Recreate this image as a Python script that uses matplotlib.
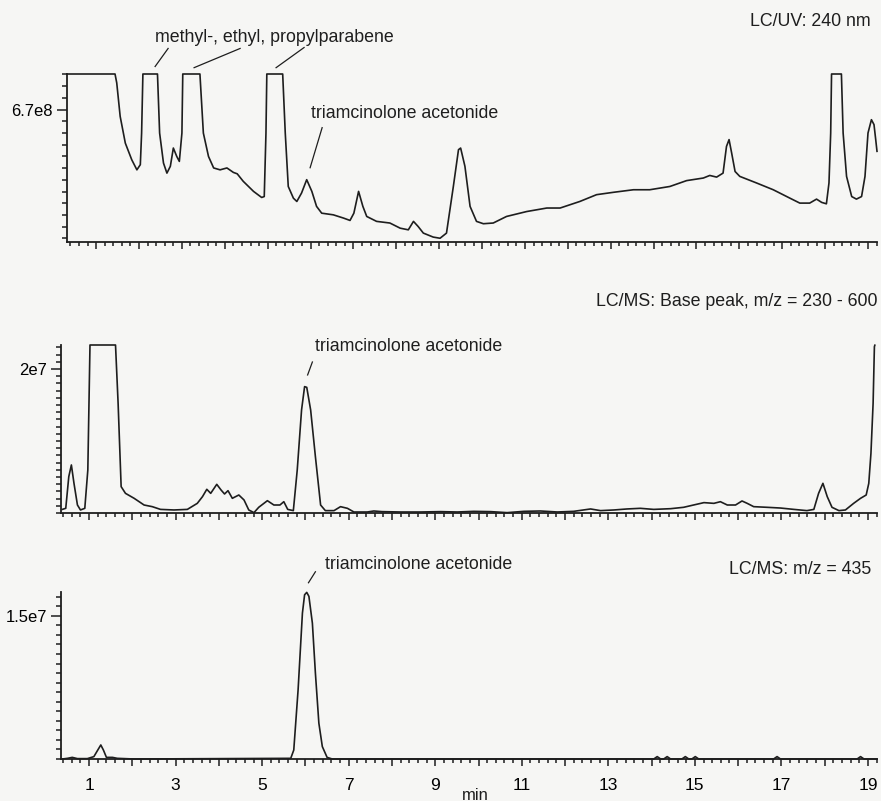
import matplotlib
matplotlib.use("Agg")
import matplotlib.pyplot as plt
from matplotlib.ticker import FixedLocator, MultipleLocator, FuncFormatter

plt.rcParams['font.family'] = ['Liberation Sans', 'DejaVu Sans']

# --- LC/UV 240 nm trace (time in min, intensity in units of 1e8) ---
uv_time = [0.32, 1.44, 1.48, 1.56, 1.68, 1.83, 1.95, 2.03, 2.06, 2.09, 2.43, 2.48, 2.57, 2.65,
           2.73, 2.80, 2.88, 2.94, 3.00, 3.02, 3.42, 3.50, 3.62, 3.74, 3.89, 4.05, 4.20, 4.29,
           4.43, 4.67, 4.86, 4.92, 4.96, 4.98, 5.35, 5.41, 5.48, 5.60, 5.68, 5.79, 5.91, 6.03,
           6.14, 6.26, 6.53, 6.77, 6.92, 7.01, 7.12, 7.22, 7.31, 7.54, 7.85, 8.09, 8.28, 8.40,
           8.51, 8.63, 8.86, 9.02, 9.17, 9.33, 9.45, 9.50, 9.60, 9.72, 9.87, 10.03, 10.26, 10.57,
           11.04, 11.51, 11.82, 12.28, 12.67, 13.06, 13.53, 13.91, 14.38, 14.77, 15.16, 15.31,
           15.47, 15.62, 15.70, 15.76, 15.82, 15.90, 16.01, 16.40, 16.79, 17.18, 17.41, 17.64,
           17.80, 17.92, 18.03, 18.09, 18.13, 18.15, 18.38, 18.42, 18.50, 18.62, 18.73, 18.85,
           18.93, 19.00, 19.08, 19.14, 19.18, 19.21]
uv_signal = [8.22, 8.22, 7.84, 6.41, 5.27, 4.56, 4.13, 4.35, 5.70, 8.22, 8.22, 5.70, 4.42, 3.99,
             4.28, 5.06, 4.70, 4.49, 5.70, 8.22, 8.22, 5.70, 4.70, 4.21, 4.13, 4.21, 4.02, 3.96,
             3.64, 3.21, 2.95, 2.99, 5.70, 8.22, 8.22, 5.70, 3.42, 2.92, 2.78, 3.14, 3.71, 3.21,
             2.57, 2.28, 2.21, 2.07, 1.97, 2.28, 3.21, 2.57, 2.14, 1.93, 1.86, 1.64, 1.57, 1.93,
             1.71, 1.43, 1.26, 1.21, 1.43, 3.42, 4.99, 5.06, 4.28, 2.57, 1.93, 1.83, 1.86, 2.14,
             2.35, 2.50, 2.50, 2.78, 3.07, 3.17, 3.28, 3.28, 3.42, 3.67, 3.78, 3.89,
             3.82, 3.99, 5.13, 5.42, 4.85, 4.06, 3.85, 3.57, 3.28, 2.92, 2.71, 2.71,
             2.88, 2.74, 2.68, 3.57, 5.70, 8.22, 8.22, 5.70, 3.85, 2.99, 2.88, 2.99,
             3.85, 5.70, 6.27, 6.06, 5.42, 4.92]

# --- LC/MS base peak trace, m/z 230-600 (intensity in units of 1e6) ---
bp_time = [0.38, 0.46, 0.53, 0.59, 0.65, 0.73, 0.80, 0.90, 0.97, 1.02, 1.61, 1.67, 1.74, 1.84,
           2.04, 2.27, 2.46, 2.65, 2.96, 3.27, 3.50, 3.62, 3.72, 3.81, 3.95, 4.05, 4.13, 4.21,
           4.31, 4.46, 4.58, 4.69, 4.81, 4.92, 5.12, 5.27, 5.41, 5.50, 5.59, 5.72, 5.81, 5.91,
           5.98, 6.03, 6.12, 6.23, 6.35, 6.46, 6.66, 6.81, 6.97, 7.12, 7.43, 7.58, 7.77, 8.20,
           8.66, 9.12, 9.51, 9.89, 10.28, 10.66, 11.05, 11.43, 11.82, 12.20, 12.59, 12.82, 13.13,
           13.43, 13.74, 14.05, 14.44, 14.74, 14.97, 15.21, 15.44, 15.59, 15.75, 15.94, 16.09,
           16.21, 16.36, 16.67, 16.98, 17.29, 17.59, 17.75, 17.86, 17.96, 18.06, 18.17, 18.33,
           18.48, 18.67, 18.83, 18.96, 19.02, 19.07, 19.12, 19.15, 19.16]
bp_signal = [0.50, 0.65, 5.05, 6.67, 4.12, 1.11, 0.42, 0.65, 5.97, 23.33, 23.33, 15.23, 3.66, 2.73,
             2.04, 1.11, 0.88, 0.50, 0.42, 0.50, 1.34, 2.27, 3.29, 2.73, 3.98, 3.19, 2.64, 3.10,
             2.04, 2.50, 1.81, 0.42, 0.05, 0.79, 1.71, 1.11, 1.11, 1.57, 0.50, 0.33, 5.97, 14.31,
             17.55, 17.45, 14.31, 7.82, 1.11, 0.33, 0.33, 0.88, 0.65, 0.14, 0.14, 0.28, 0.19, 0.14,
             0.14, 0.19, 0.14, 0.23, 0.19, 0.05, 0.23, 0.28, 0.14, 0.23, 0.56, 0.33, 0.42,
             0.56, 0.65, 0.50, 0.60, 0.79, 1.11, 1.44, 1.34, 1.57, 1.11, 1.11, 1.67,
             1.34, 0.88, 0.79, 0.69, 0.50, 0.33, 0.50, 2.73, 4.12, 2.27, 0.79, 0.33,
             0.42, 1.34, 2.04, 2.50, 4.12, 8.29, 15.23, 23.10, 23.30]

# --- LC/MS extracted ion, m/z 435 (intensity in units of 1e6) ---
xic_time = [0.38, 0.50, 0.61, 0.73, 0.96, 1.11, 1.20, 1.27, 1.33, 1.40, 1.54, 1.65, 2.04, 5.66,
            5.73, 5.83, 5.93, 5.98, 6.03, 6.08, 6.16, 6.23, 6.31, 6.39, 6.50, 6.62, 14.05, 14.13,
            14.21, 14.28, 14.36, 14.44, 14.70, 14.78, 14.86, 14.93, 15.01, 15.09, 16.82, 16.90,
            16.98, 18.75, 18.83, 18.91, 19.21]
xic_signal = [0.00, 0.07, 0.17, 0.04, 0.04, 0.25, 0.94, 1.47, 0.94, 0.17, 0.17, 0.07, 0.00, 0.07,
              0.94, 7.25, 15.29, 17.21, 17.46, 17.04, 14.24, 8.99, 3.75, 1.30, 0.17, 0.00, 0.00, 0.25,
              0.00, 0.00, 0.25, 0.00, 0.00, 0.25, 0.00, 0.00, 0.25, 0.00, 0.00, 0.25,
              0.00, 0.00, 0.25, 0.00, 0.00]

W, H = 881, 801
LINE = '#1e1e1e'
FS = 12.8


def add_axes_px(fig, left, right, top, bottom):
    """Create axes from pixel edges measured on the original figure."""
    return fig.add_axes([left / W, 1 - bottom / H, (right - left) / W, (bottom - top) / H])


def style_panel(ax, xlim, ylim, y_major, y_label, y_minor, show_xlabels=False):
    """Chromatogram-style axes: left and bottom spines only, dense ticks."""
    ax.set_xlim(*xlim)
    ax.set_ylim(*ylim)
    ax.set_facecolor('none')
    for side in ('top', 'right'):
        ax.spines[side].set_visible(False)
    for side in ('left', 'bottom'):
        ax.spines[side].set_linewidth(1.3)
        ax.spines[side].set_color(LINE)

    # x: long tick every minute, short tick every 0.2 min, labels on odd minutes
    ax.xaxis.set_major_locator(MultipleLocator(1))
    ax.xaxis.set_minor_locator(MultipleLocator(0.2))
    if show_xlabels:
        ax.xaxis.set_major_formatter(FuncFormatter(
            lambda v, p: f'{int(round(v))}' if int(round(v)) % 2 == 1 else ''))
    else:
        ax.xaxis.set_major_formatter(FuncFormatter(lambda v, p: ''))
    ax.tick_params(axis='x', which='major', length=5, width=1.1, direction='out',
                   color=LINE, labelsize=12.5, pad=9)
    ax.tick_params(axis='x', which='minor', length=3.2, width=1.1, direction='out', color=LINE)

    # y: one labelled tick plus evenly spaced unlabelled ticks
    ax.yaxis.set_major_locator(FixedLocator([y_major]))
    ax.yaxis.set_major_formatter(FuncFormatter(lambda v, p: y_label))
    ax.yaxis.set_minor_locator(FixedLocator(y_minor))
    ax.tick_params(axis='y', which='major', length=7, width=1.1, direction='out',
                   color=LINE, labelsize=12, pad=3)
    ax.tick_params(axis='y', which='minor', length=3.5, width=1.1, direction='out', color=LINE)


def label_peak(ax, text, tip, tail, text_xy):
    """Short leader line plus peak name, all in data coordinates."""
    ax.plot([tail[0], tip[0]], [tail[1], tip[1]], color=LINE, lw=0.9, clip_on=False)
    if text:
        ax.text(text_xy[0], text_xy[1], text, fontsize=FS, color=LINE,
                ha='left', va='center', clip_on=False)


fig = plt.figure(figsize=(W / 100, H / 100), dpi=100)
fig.patch.set_facecolor('#f6f6f4')

# ---------------- panel 1: LC/UV ----------------
ax1 = add_axes_px(fig, 67, 877, 74, 242)
ax1.plot(uv_time, uv_signal, color=LINE, lw=1.2, clip_on=False)
uv_minor = [6.7 + 0.5 * k for k in range(-11, 4) if k != 0]
style_panel(ax1, (0.32, 19.21), (1.05, 8.22), 6.7, '6.7e8', uv_minor)
label_peak(ax1, '', (2.375, 8.54), (2.678, 9.31), (0, 0))
label_peak(ax1, '', (3.284, 8.49), (4.357, 9.31), (0, 0))
label_peak(ax1, 'methyl-, ethyl, propylparabene', (5.196, 8.49), (5.849, 9.35), (2.38, 9.78))
label_peak(ax1, 'triamcinolone acetonide', (5.99, 4.22), (6.27, 5.93), (6.01, 6.53))

# ---------------- panel 2: LC/MS base peak ----------------
ax2 = add_axes_px(fig, 61, 877, 345, 513)
ax2.plot(bp_time, bp_signal, color=LINE, lw=1.2, clip_on=False)
style_panel(ax2, (0.35, 19.21), (0, 23.33), 20, '2e7',
            [k for k in range(0, 24) if k != 20])
label_peak(ax2, 'triamcinolone acetonide', (6.05, 19.17), (6.16, 20.97), (6.23, 23.06))

# ---------------- panel 3: LC/MS m/z 435 ----------------
ax3 = add_axes_px(fig, 61, 877, 592, 759)
ax3.plot(xic_time, xic_signal, color=LINE, lw=1.2, clip_on=False)
style_panel(ax3, (0.35, 19.21), (0, 17.5), 15, '1.5e7',
            [k for k in range(0, 18) if k != 15], show_xlabels=True)
label_peak(ax3, 'triamcinolone acetonide', (6.07, 18.47), (6.23, 19.62), (6.46, 20.36))

# trace titles and axis unit
fig.text(871 / W, 1 - 22 / H, 'LC/UV: 240 nm', fontsize=FS, color=LINE, ha='right', va='center')
fig.text(877 / W, 1 - 302 / H, 'LC/MS: Base peak, m/z = 230 - 600', fontsize=FS, color=LINE,
         ha='right', va='center')
fig.text(871 / W, 1 - 570 / H, 'LC/MS: m/z = 435', fontsize=FS, color=LINE, ha='right', va='center')
fig.text(475 / W, 1 - 795 / H, 'min', fontsize=12, color=LINE, ha='center', va='center')

fig.savefig('out.png', dpi=100, facecolor=fig.get_facecolor())
